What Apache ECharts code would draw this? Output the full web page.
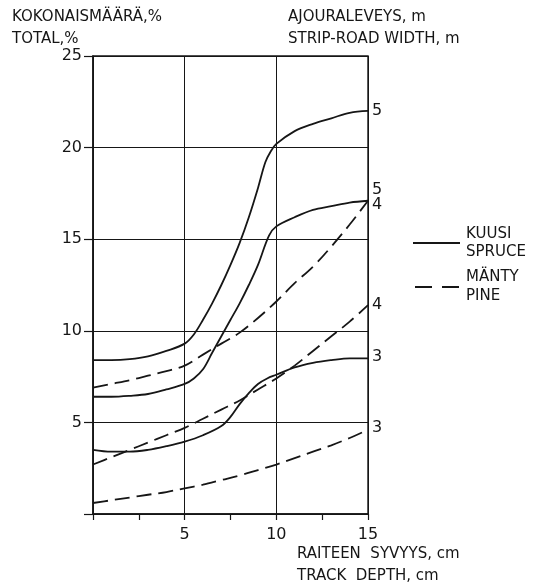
<!DOCTYPE html>
<html><head><meta charset="utf-8">
<script src="https://cdn.jsdelivr.net/npm/echarts@6/dist/echarts.min.js"></script>
<style>html,body{margin:0;padding:0;background:#fff}#c{width:542px;height:585px}</style>
</head><body><div id="c"></div>
<script>
// Track depth, cm
const spruce5X = [0,1,2,3,4,5,5.5,6,6.5,7,7.5,8,8.5,9,9.4,9.7,10,11,12,13,14,15];
const spruce5Y = [8.4,8.4,8.45,8.6,8.9,9.3,9.8,10.6,11.5,12.5,13.6,14.8,16.2,17.8,19.2,19.8,20.2,20.9,21.3,21.6,21.9,22.0];
const spruce4X = [0,1,2,3,4,5,5.5,6,6.5,7,7.5,8,8.5,9,9.6,10,11,12,13,14,15];
const spruce4Y = [6.4,6.4,6.45,6.55,6.8,7.1,7.4,7.9,8.8,9.7,10.6,11.5,12.5,13.6,15.2,15.7,16.2,16.6,16.8,17.0,17.1];
const spruce3X = [0,1,2,3,4,5,6,7,7.5,8,8.5,9,9.5,10,11,12,13,14,15];
const spruce3Y = [3.5,3.4,3.4,3.5,3.7,3.95,4.3,4.8,5.3,6.0,6.6,7.1,7.4,7.6,8.0,8.25,8.4,8.5,8.5];
const pine5X = [0,1,2,3,4,5,6,7,8,9,10,11,12,13,14,15];
const pine5Y = [6.9,7.1,7.3,7.55,7.8,8.1,8.7,9.3,9.9,10.7,11.6,12.6,13.5,14.6,15.8,17.1];
const pine4X = [0,1,2,3,4,5,6,7,8,9,10,11,12,13,14,15];
const pine4Y = [2.7,3.1,3.5,3.9,4.3,4.7,5.2,5.7,6.2,6.8,7.4,8.1,8.9,9.7,10.5,11.4];
const pine3X = [0,1,2,3,4,5,6,7,8,9,10,11,12,13,14,15];
const pine3Y = [0.6,0.75,0.9,1.05,1.2,1.4,1.6,1.85,2.1,2.4,2.7,3.05,3.4,3.75,4.15,4.6];
// strip-road width labels at line ends
const widthLabels = ['5','4','3','5','4','3'];
const xTicks = [5,10,15];
const yTicks = [5,10,15,20,25];

const INK = '#161616';
const FONT = 'DejaVu Sans';
const labelOffsets = [[0,0],[0,4],[0,-1],[0,-11],[0,0],[0,-2]];

function mk(xs, ys, dashed, idx){
  const data = xs.map((x,i)=>[x, ys[i]]);
  return {type:'line', data, smooth:0.35, symbol:'none', showSymbol:false, silent:true,
    lineStyle:{color:INK, width:1.8, type: dashed ? [15,7] : 'solid'}, z:5,
    endLabel:{show:true, formatter: widthLabels[idx], distance:4, offset:labelOffsets[idx],
      color:INK, fontFamily:FONT, fontSize:16}};
}

const chart = echarts.init(document.getElementById('c'), null, {renderer:'canvas'});
chart.setOption({
  backgroundColor:'#fff',
  animation:false,
  grid:{left:93, right:174, top:56, bottom:71, show:true, borderColor:INK, borderWidth:1.4},
  xAxis:{type:'value', min:0, max:15, interval:5,
    axisLine:{show:true, lineStyle:{color:INK, width:1.6}},
    axisTick:{show:true, length:6, lineStyle:{color:INK, width:1.2}},
    minorTick:{show:true, splitNumber:2, length:6, lineStyle:{color:INK, width:1.2}},
    splitLine:{show:true, lineStyle:{color:INK, width:1}},
    axisLabel:{margin:13, color:INK, fontFamily:FONT, fontSize:16,
      formatter: v => xTicks.includes(v) ? String(v) : ''}},
  yAxis:{type:'value', min:0, max:25, interval:5,
    axisLine:{show:true, lineStyle:{color:INK, width:1.6}},
    axisTick:{show:true, length:9, lineStyle:{color:INK, width:1.2}},
    splitLine:{show:true, lineStyle:{color:INK, width:1}},
    axisLabel:{margin:11, color:INK, fontFamily:FONT, fontSize:16,
      formatter: v => yTicks.includes(v) ? String(v) : ''}},
  series:[
    mk(spruce5X, spruce5Y, false, 0),
    mk(spruce4X, spruce4Y, false, 1),
    mk(spruce3X, spruce3Y, false, 2),
    mk(pine5X, pine5Y, true, 3),
    mk(pine4X, pine4Y, true, 4),
    mk(pine3X, pine3Y, true, 5)
  ],
  graphic:[
    {type:'text', left:12, top:10, style:{text:'KOKONAISMÄÄRÄ,%', font:'15px "DejaVu Sans"', fill:INK}},
    {type:'text', left:12, top:32, style:{text:'TOTAL,%', font:'15px "DejaVu Sans"', fill:INK}},
    {type:'text', left:288, top:10, style:{text:'AJOURALEVEYS, m', font:'15px "DejaVu Sans"', fill:INK}},
    {type:'text', left:288, top:32, style:{text:'STRIP-ROAD WIDTH, m', font:'15px "DejaVu Sans"', fill:INK}},
    {type:'text', left:297, top:547, style:{text:'RAITEEN  SYVYYS, cm', font:'15px "DejaVu Sans"', fill:INK}},
    {type:'text', left:297, top:569, style:{text:'TRACK  DEPTH, cm', font:'15px "DejaVu Sans"', fill:INK}},
    {type:'line', shape:{x1:413, y1:243, x2:460, y2:243}, style:{stroke:INK, lineWidth:1.8}},
    {type:'line', shape:{x1:415, y1:287, x2:460, y2:287}, style:{stroke:INK, lineWidth:1.8, lineDash:[17,10]}},
    {type:'text', left:466, top:227, style:{text:'KUUSI', font:'15px "DejaVu Sans"', fill:INK}},
    {type:'text', left:466, top:245, style:{text:'SPRUCE', font:'15px "DejaVu Sans"', fill:INK}},
    {type:'text', left:466, top:270, style:{text:'MÄNTY', font:'15px "DejaVu Sans"', fill:INK}},
    {type:'text', left:466, top:289, style:{text:'PINE', font:'15px "DejaVu Sans"', fill:INK}}
  ]
});
</script></body></html>
